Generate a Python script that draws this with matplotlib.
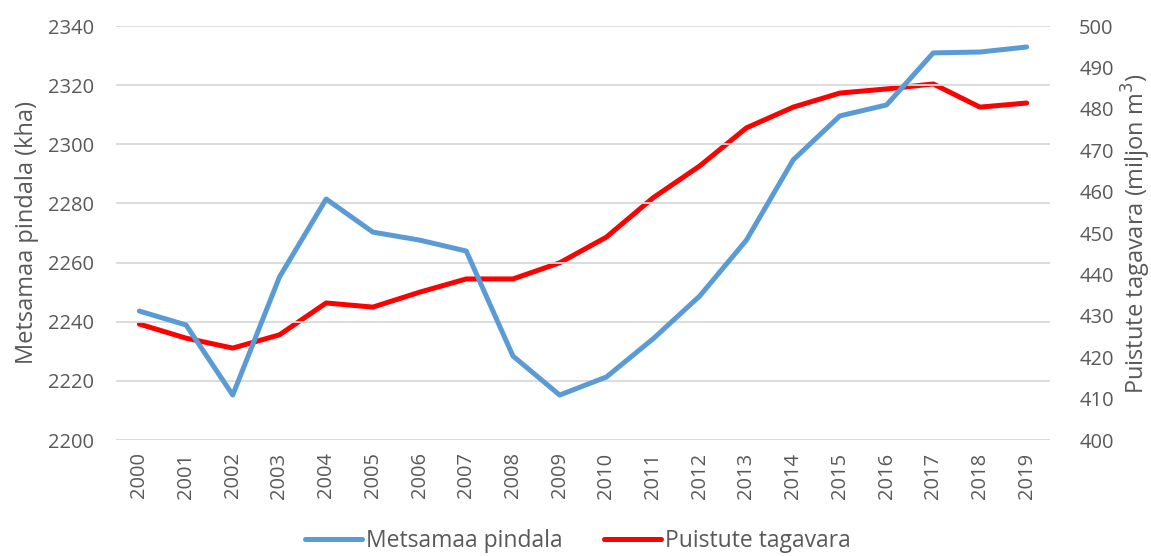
import numpy as np
import matplotlib.pyplot as plt

plt.rcParams['font.family'] = ['Open Sans', 'DejaVu Sans']

years = [str(y) for y in range(2000, 2020)]
forest_area = [2243.6, 2238.9, 2215.2, 2255.1, 2281.5, 2270.3, 2267.6, 2263.9, 2228.4, 2215.2,
               2221.3, 2234.2, 2248.7, 2267.6, 2294.7, 2309.6, 2313.3, 2330.9, 2331.2, 2332.9]
growing_stock = [428.0, 424.6, 422.2, 425.4, 433.1, 432.1, 435.7, 438.9, 438.9, 442.8,
                 449.0, 458.5, 466.2, 475.4, 480.4, 483.8, 484.8, 486.0, 480.4, 481.4]

grey = '#595959'
fig = plt.figure(figsize=(11.51, 5.56), dpi=100)
ax = fig.add_axes([116 / 1151, 1 - 440 / 556, (1050 - 116) / 1151, 414 / 556])
ax2 = ax.twinx()

x = np.arange(len(years))
l1, = ax.plot(x, forest_area, color='#5b9bd5', lw=3.6, label='Metsamaa pindala',
              solid_joinstyle='round', solid_capstyle='round')
l2, = ax2.plot(x, growing_stock, color='#ff0000', lw=3.6, label='Puistute tagavara',
               solid_joinstyle='round', solid_capstyle='round')
ax.set_zorder(ax2.get_zorder() + 1)
ax.patch.set_visible(False)

ax.set_xlim(-0.5, len(years) - 0.5)
ax.set_ylim(2200, 2340)
ax.set_yticks(np.arange(2200, 2341, 20))
ax2.set_ylim(400, 500)
ax2.set_yticks(np.arange(400, 501, 10))
ax.set_xticks(x)
ax.set_xticklabels(years, rotation=90)
ax.grid(axis='y', color='#d9d9d9', lw=1.3)
ax.set_axisbelow(True)

for a in (ax, ax2):
    for s in a.spines.values():
        s.set_visible(False)
    a.tick_params(length=0, labelsize=14.5, labelcolor=grey)
ax.tick_params(axis='y', pad=16)
ax.tick_params(axis='x', pad=9)
ax2.tick_params(axis='y', pad=21)

ax.set_ylabel('Metsamaa pindala (kha)', fontsize=17, color=grey, labelpad=6)
ax2.set_ylabel('Puistute tagavara (miljon m$^3$)', fontsize=17, color=grey, labelpad=4)

fig.legend(handles=[l1, l2], loc='center', bbox_to_anchor=(578 / 1151, 1 - 541 / 556),
           ncol=2, frameon=False, fontsize=16.5, handlelength=2.5, handletextpad=0.17,
           columnspacing=1.8, labelcolor=grey)

fig.savefig('out.png', dpi=100)
